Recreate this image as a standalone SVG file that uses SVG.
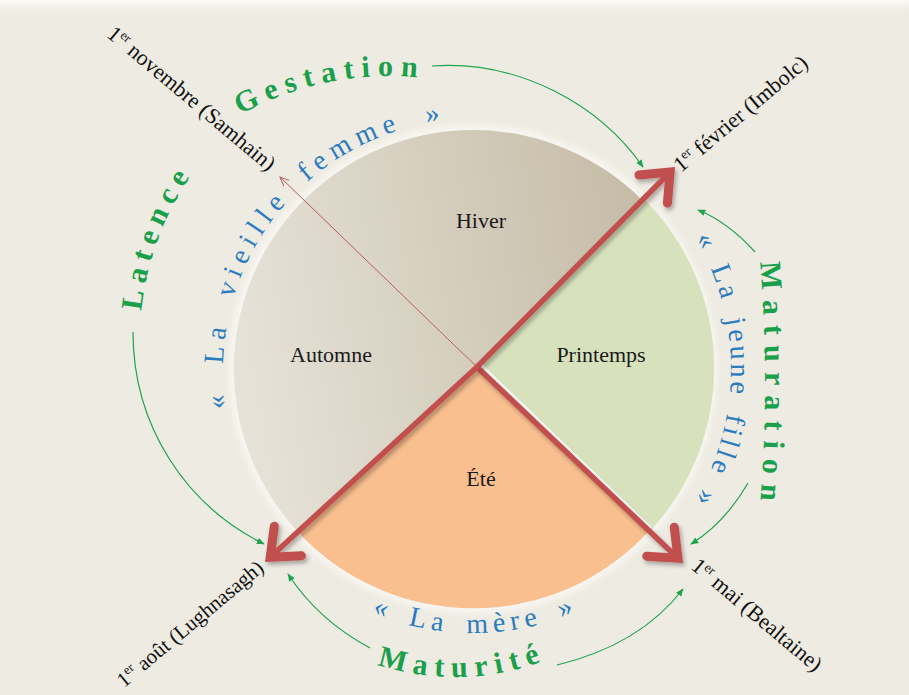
<svg xmlns="http://www.w3.org/2000/svg" width="909" height="695" viewBox="0 0 909 695">
<style>
.g{font-family:"Liberation Serif","Times New Roman",serif;font-weight:bold;font-size:30px;fill:#1a9f4b}
.b{font-family:"Liberation Serif","Times New Roman",serif;font-size:28px;fill:#2b7bbf}
.c{font-family:"Liberation Serif","Times New Roman",serif;font-size:22px;fill:#111}
.s{font-family:"Liberation Serif","Times New Roman",serif;font-size:22px;fill:#1a1a1a;text-anchor:middle}
.gl{fill:none;stroke:#1ea34e;stroke-width:1.2;marker-end:url(#greenHead)}
.red{fill:none;stroke:#c0504d;stroke-width:5.5;marker-end:url(#bigHead);filter:url(#shadow)}
</style>
<defs>
<linearGradient id="bgTop" x1="0" y1="0" x2="0" y2="1">
<stop offset="0" stop-color="#fbfaf7"/><stop offset="1" stop-color="#eeebe2" stop-opacity="0"/>
</linearGradient>
<linearGradient id="greyGrad" gradientUnits="userSpaceOnUse" x1="232" y1="320" x2="660" y2="250">
<stop offset="0" stop-color="#e6e2d8"/><stop offset="1" stop-color="#c4bba5"/>
</linearGradient>
<filter id="shadow" x="-20%" y="-20%" width="140%" height="140%"><feDropShadow dx="2" dy="3" stdDeviation="2" flood-color="#000" flood-opacity="0.3"/></filter>
<filter id="glow" x="-10%" y="-10%" width="120%" height="120%"><feGaussianBlur stdDeviation="3"/></filter>
<marker id="bigHead" markerUnits="userSpaceOnUse" viewBox="0 0 50 44" markerWidth="50" markerHeight="44" refX="40" refY="22" orient="auto" overflow="visible"><path d="M16,2 L40,22 L16,42" fill="none" stroke="#c0504d" stroke-width="9" stroke-linecap="round"/></marker>
<marker id="thinHead" markerUnits="userSpaceOnUse" viewBox="0 0 10 10" markerWidth="10" markerHeight="10" refX="10" refY="5" orient="auto" overflow="visible"><path d="M1,1 L10,5 L1,9" fill="none" stroke="#b5605a" stroke-width="1"/></marker>
<marker id="greenHead" markerUnits="userSpaceOnUse" viewBox="0 0 10 10" markerWidth="8" markerHeight="8" refX="9" refY="5" orient="auto"><path d="M0,1 L10,5 L0,9 z" fill="#1ea34e"/></marker>
<path id="pGest" d="M240.2,114.7 A309,309 0 0 1 443.6,80.7"/>
<path id="pLat" d="M141.4,311 A287,287 0 0 1 283.5,90.5"/>
<path id="pMatn" d="M760,262 A1500,1500 0 0 1 759.4,515"/>
<path id="pMatt" d="M377.1,664.7 A252,252 0 0 0 581,643.2"/>
<path id="pVieille" d="M226.1,408.1 A250,250 0 0 1 464.3,119.2"/>
<path id="pJeune" d="M695.3,238.1 A258,258 0 0 1 694.2,501.9"/>
<path id="pMere" d="M372,612.9 A264,264 0 0 0 580.4,610.2"/>
</defs>

<rect x="0" y="0" width="909" height="695" fill="#eeebe2"/>
<rect x="0" y="0" width="909" height="18" fill="url(#bgTop)"/>

<g id="wheel">
<circle cx="473" cy="369" r="240" fill="none" stroke="#fbfaf6" stroke-width="8" opacity="0.8" filter="url(#glow)"/>
<g id="hiver">
<path d="M477,367 L307.5,196.6 A239,239 0 0 1 642,200 Z" fill="url(#greyGrad)"/>
<text class="s" x="481" y="228">Hiver</text>
</g>
<g id="printemps">
<path d="M477,367 L642,200 A239,239 0 0 1 649,531 Z" fill="#d7e2bd" transform="translate(2,-1)"/>
<text class="s" x="601" y="362">Printemps</text>
</g>
<g id="ete">
<path d="M477,367 L649,531 A239,239 0 0 1 298,532 Z" fill="#f9bf8f"/>
<text class="s" x="481" y="486">Été</text>
</g>
<g id="automne">
<path d="M477,367 L298,532 A239,239 0 0 1 307.5,196.6 Z" fill="url(#greyGrad)"/>
<text class="s" x="331" y="362">Automne</text>
</g>
</g>

<g id="connectors">
<line x1="480" y1="364" x2="651" y2="528" stroke="#ffffff" stroke-width="2.5"/>
<line x1="477" y1="367" x2="280" y2="177" stroke="#b5605a" stroke-width="1" marker-end="url(#thinHead)"/>
<path class="red" d="M477,367 L670.1,172"/>
<path class="red" d="M478,368 L677.9,558.2"/>
<path class="red" d="M477,367 L270.2,557.3"/>
<path class="gl" d="M432,66 C520,60 600,105 643,167"/>
<path class="gl" d="M755,252 Q728,222 698,210"/>
<path class="gl" d="M748,483 Q725,523 691,544"/>
<path class="gl" d="M557,665 Q640,645 683,589"/>
<path class="gl" d="M370,648 Q318,620 288,574"/>
<path class="gl" d="M133,332 C133,425 185,505 264,544"/>
</g>

<g id="dates">
<text class="c" transform="translate(268,172) rotate(40)" text-anchor="end">1<tspan font-size="13" dy="-8">er</tspan><tspan dy="8"> novembre (Samhain)</tspan></text>
<text class="c" transform="translate(681,173) rotate(-40)">1<tspan font-size="13" dy="-8">er</tspan><tspan dy="8"> février (Imbolc)</tspan></text>
<text class="c" transform="translate(265,570) rotate(-40)" text-anchor="end" style="font-size:21px">1<tspan font-size="13" dy="-8">er</tspan><tspan dy="8"> août (Lughnasagh)</tspan></text>
<text class="c" transform="translate(690,568) rotate(40)">1<tspan font-size="13" dy="-8">er</tspan><tspan dy="8"> mai (Bealtaine)</tspan></text>
</g>

<g id="phases">
<text class="g" letter-spacing="7.5"><textPath href="#pGest">Gestation</textPath></text>
<text class="g" letter-spacing="7"><textPath href="#pLat">Latence</textPath></text>
<text class="g" letter-spacing="10"><textPath href="#pMatn">Maturation</textPath></text>
<text class="g" letter-spacing="7.4"><textPath href="#pMatt">Maturité</textPath></text>
</g>

<g id="ages">
<text class="b" letter-spacing="6.6" word-spacing="10"><textPath href="#pVieille">« La vieille femme »</textPath></text>
<text class="b" letter-spacing="3.5" word-spacing="6"><textPath href="#pJeune">« La jeune fille »</textPath></text>
<text class="b" letter-spacing="5.5" word-spacing="6"><textPath href="#pMere">« La mère »</textPath></text>
</g>
</svg>
